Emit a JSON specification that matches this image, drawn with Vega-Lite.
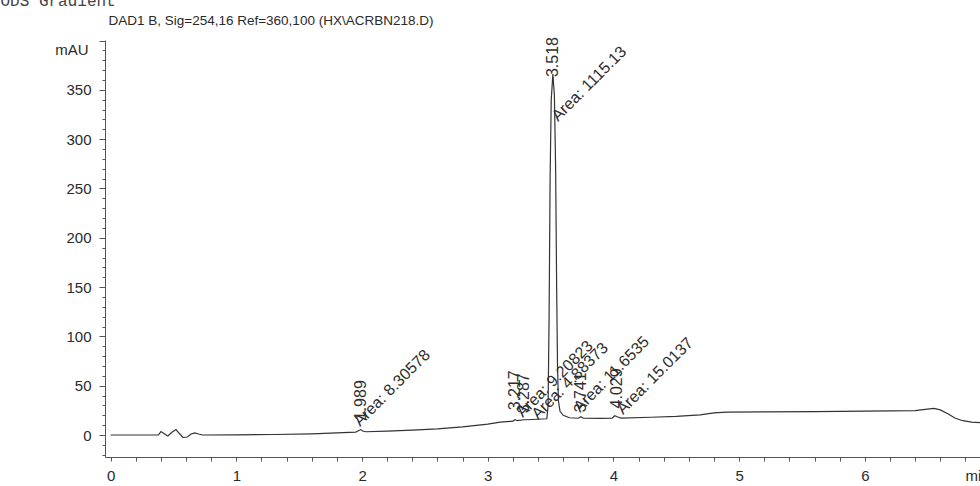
{
  "$schema": "https://vega.github.io/schema/vega-lite/v6.json",
  "width": 875,
  "height": 417,
  "autosize": {"type": "none"},
  "padding": {"left": 105, "top": 40, "right": 0, "bottom": 29},
  "background": "white",
  "config": {
    "view": {"stroke": null},
    "font": "Liberation Sans",
    "axis": {"grid": false}
  },
  "datasets": {
    "trace": [
      {"t": 0, "mAU": 0}, {"t": 0.38, "mAU": 0}, {"t": 0.4, "mAU": 3.5}, {"t": 0.43, "mAU": 1},
      {"t": 0.455, "mAU": -1}, {"t": 0.49, "mAU": 3}, {"t": 0.52, "mAU": 5.5}, {"t": 0.55, "mAU": 1},
      {"t": 0.575, "mAU": -2.5}, {"t": 0.61, "mAU": -2}, {"t": 0.64, "mAU": 1}, {"t": 0.67, "mAU": 2.2},
      {"t": 0.7, "mAU": 1}, {"t": 0.73, "mAU": 0}, {"t": 1.0, "mAU": 0.2}, {"t": 1.3, "mAU": 0.5},
      {"t": 1.6, "mAU": 1.2}, {"t": 1.8, "mAU": 2.2}, {"t": 1.95, "mAU": 3}, {"t": 1.975, "mAU": 4.5},
      {"t": 1.99, "mAU": 5.5}, {"t": 2.005, "mAU": 4}, {"t": 2.03, "mAU": 3.3}, {"t": 2.2, "mAU": 4},
      {"t": 2.4, "mAU": 5}, {"t": 2.6, "mAU": 6.2}, {"t": 2.8, "mAU": 8.3}, {"t": 3.0, "mAU": 11},
      {"t": 3.1, "mAU": 13}, {"t": 3.2, "mAU": 14}, {"t": 3.217, "mAU": 15.5}, {"t": 3.235, "mAU": 14.5},
      {"t": 3.287, "mAU": 15.5}, {"t": 3.3, "mAU": 15.5}, {"t": 3.4, "mAU": 16}, {"t": 3.47, "mAU": 16.5},
      {"t": 3.48, "mAU": 30}, {"t": 3.488, "mAU": 120}, {"t": 3.496, "mAU": 260}, {"t": 3.505, "mAU": 340},
      {"t": 3.518, "mAU": 366}, {"t": 3.53, "mAU": 345}, {"t": 3.54, "mAU": 270}, {"t": 3.548, "mAU": 150},
      {"t": 3.555, "mAU": 70}, {"t": 3.562, "mAU": 35}, {"t": 3.575, "mAU": 24}, {"t": 3.6, "mAU": 20},
      {"t": 3.65, "mAU": 17.5}, {"t": 3.72, "mAU": 17}, {"t": 3.741, "mAU": 18.5}, {"t": 3.76, "mAU": 17},
      {"t": 3.9, "mAU": 16.8}, {"t": 3.99, "mAU": 17}, {"t": 4.01, "mAU": 19.5}, {"t": 4.03, "mAU": 18.5},
      {"t": 4.06, "mAU": 17.2}, {"t": 4.3, "mAU": 18}, {"t": 4.5, "mAU": 19}, {"t": 4.69, "mAU": 20.5},
      {"t": 4.8, "mAU": 22.5}, {"t": 4.9, "mAU": 23.3}, {"t": 5.2, "mAU": 23.5}, {"t": 5.6, "mAU": 23.8},
      {"t": 6.0, "mAU": 24.2}, {"t": 6.4, "mAU": 24.8}, {"t": 6.48, "mAU": 26}, {"t": 6.55, "mAU": 27},
      {"t": 6.6, "mAU": 25.5}, {"t": 6.66, "mAU": 21.5}, {"t": 6.72, "mAU": 17}, {"t": 6.78, "mAU": 14.5},
      {"t": 6.85, "mAU": 13}, {"t": 6.92, "mAU": 12.5}
    ],
    "rt": [
      {"t": 1.989, "y": 15, "label": "1.989"},
      {"t": 3.217, "y": 25, "label": "3.217"},
      {"t": 3.287, "y": 22, "label": "3.287"},
      {"t": 3.518, "y": 363, "label": "3.518"},
      {"t": 3.741, "y": 23, "label": "3.741"},
      {"t": 4.029, "y": 27, "label": "4.029"}
    ],
    "area": [
      {"t": 1.983, "y": 8.1, "label": "Area: 8.30578"},
      {"t": 3.279, "y": 17.2, "label": "Area: 9.20823"},
      {"t": 3.399, "y": 15.2, "label": "Area: 4.88373"},
      {"t": 3.558, "y": 317.4, "label": "Area: 1115.13"},
      {"t": 3.733, "y": 22.3, "label": "Area: 11.6535"},
      {"t": 4.075, "y": 20.3, "label": "Area: 15.0137"}
    ]
  },
  "layer": [
    {
      "data": {"name": "trace"},
      "mark": {"type": "line", "color": "#333333", "strokeWidth": 1.2},
      "encoding": {
        "x": {
          "field": "t", "type": "quantitative",
          "scale": {"domain": [-0.045, 6.916], "nice": false, "zero": false},
          "axis": {
            "orient": "bottom",
            "values": [0,0.2,0.4,0.6,0.8,1,1.2,1.4,1.6,1.8,2,2.2,2.4,2.6,2.8,3,3.2,3.4,3.6,3.8,4,4.2,4.4,4.6,4.8,5,5.2,5.4,5.6,5.8,6,6.2,6.4,6.6,6.8],
            "labelExpr": "abs(datum.value - round(datum.value)) < 0.01 ? format(datum.value, 'd') : ''",
            "labelFlush": false,
            "labelOverlap": false,
            "tickSize": 4,
            "labelFontSize": 15,
            "labelPadding": 7,
            "labelColor": "#2a2a2a",
            "tickColor": "#555",
            "domainColor": "#555",
            "title": "min",
            "titleX": 860,
            "titleY": 11,
            "titleAlign": "left",
            "titleBaseline": "top",
            "titleFontSize": 15,
            "titleFontWeight": "normal",
            "titleColor": "#2a2a2a"
          }
        },
        "y": {
          "field": "mAU", "type": "quantitative",
          "scale": {"domain": [-22.3, 400.6], "nice": false, "zero": false},
          "axis": {
            "orient": "left",
            "values": [-20,-10,0,10,20,30,40,50,60,70,80,90,100,110,120,130,140,150,160,170,180,190,200,210,220,230,240,250,260,270,280,290,300,310,320,330,340,350,360,370,380,390,400],
            "labelExpr": "datum.value >= 0 && datum.value <= 350 && datum.value % 50 === 0 ? format(datum.value, 'd') : ''",
            "labelOverlap": false,
            "labelFlush": false,
            "tickSize": {"condition": {"test": "datum.value % 50 === 0", "value": 6}, "value": 3},
            "labelFontSize": 15,
            "labelPadding": 8,
            "labelColor": "#2a2a2a",
            "tickColor": "#555",
            "domainColor": "#555",
            "title": "mAU",
            "titleAngle": 0,
            "titleX": -17,
            "titleY": 9,
            "titleAlign": "right",
            "titleBaseline": "middle",
            "titleFontSize": 15,
            "titleFontWeight": "normal",
            "titleColor": "#2a2a2a"
          }
        }
      }
    },
    {
      "data": {"name": "rt"},
      "mark": {"type": "text", "angle": 270, "align": "left", "baseline": "middle", "fontSize": 16, "color": "#2e2e2e"},
      "encoding": {
        "x": {
          "field": "t", "type": "quantitative",
          "scale": {"domain": [-0.045, 6.916], "nice": false, "zero": false},
          "axis": {
            "orient": "top", "domain": false, "ticks": false, "labels": false, "grid": false,
            "title": "DAD1 B, Sig=254,16 Ref=360,100 (HX\\ACRBN218.D)",
            "titleX": 3, "titleY": -16, "titleAlign": "left", "titleBaseline": "alphabetic",
            "titleFontSize": 13.5, "titleFontWeight": "normal", "titleColor": "#2a2a2a"
          }
        },
        "y": {
          "field": "y", "type": "quantitative",
          "scale": {"domain": [-22.3, 400.6], "nice": false, "zero": false},
          "axis": {
            "orient": "left", "domain": false, "ticks": false, "labels": false, "grid": false,
            "title": "ODS Gradient",
            "titleAngle": 0, "titleX": -105, "titleY": -35, "titleAlign": "left", "titleBaseline": "alphabetic",
            "titleFont": "Liberation Mono", "titleFontSize": 16, "titleFontWeight": "normal", "titleColor": "#444"
          }
        },
        "text": {"field": "label"}
      }
    },
    {
      "data": {"name": "area"},
      "mark": {"type": "text", "angle": 315, "align": "left", "baseline": "alphabetic", "fontSize": 16, "color": "#2e2e2e"},
      "encoding": {
        "x": {"field": "t", "type": "quantitative", "scale": {"domain": [-0.045, 6.916], "nice": false, "zero": false}, "axis": null},
        "y": {"field": "y", "type": "quantitative", "scale": {"domain": [-22.3, 400.6], "nice": false, "zero": false}, "axis": null},
        "text": {"field": "label"}
      }
    }
  ],
  "resolve": {"axis": {"x": "independent", "y": "independent"}}
}
